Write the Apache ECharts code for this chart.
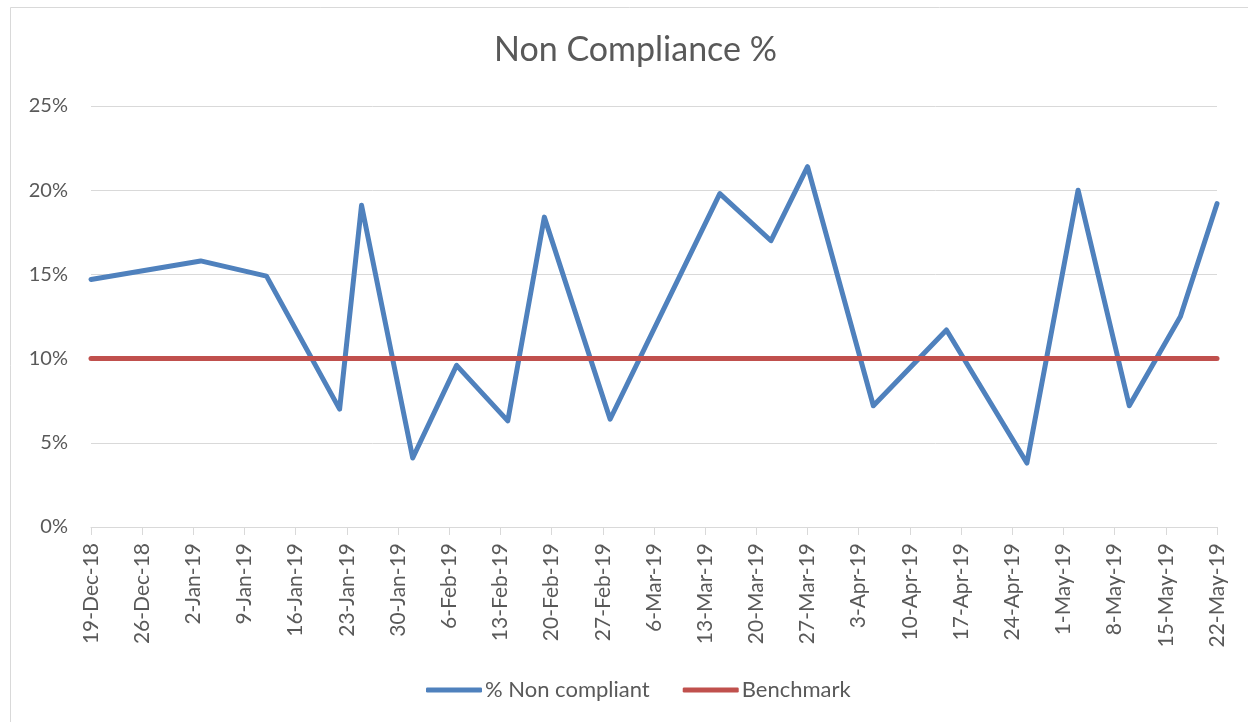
<!DOCTYPE html>
<html>
<head>
<meta charset="utf-8">
<script src="https://cdn.jsdelivr.net/npm/echarts@6/dist/echarts.min.js"></script>
<style>
html,body{margin:0;padding:0;background:#fff;}
#chart{width:1248px;height:722px;}
</style>
</head>
<body>
<div id="chart"></div>
<script>
// ---- Data ----
var axisStart = '2018-12-19';
var axisEnd = '2019-05-22';
var dates = ['2018-12-19','2019-01-03','2019-01-12','2019-01-22','2019-01-25','2019-02-01','2019-02-07','2019-02-14','2019-02-19','2019-02-28','2019-03-15','2019-03-22','2019-03-27','2019-04-05','2019-04-15','2019-04-26','2019-05-03','2019-05-10','2019-05-17','2019-05-22'];
var nonCompliant = [14.7,15.8,14.9,7.0,19.1,4.1,9.6,6.3,18.4,6.4,19.8,17.0,21.4,7.2,11.7,3.8,20.0,7.2,12.5,19.2];
var benchmark = [10,10];
var benchmarkDates = ['2018-12-19','2019-05-22'];
var monthNames = ['Jan','Feb','Mar','Apr','May','Jun','Jul','Aug','Sep','Oct','Nov','Dec'];

function dayNum(s){
  var p = s.split('-');
  return Math.round((Date.UTC(+p[0], +p[1]-1, +p[2]) - Date.UTC(2018,11,19)) / 86400000);
}
var startDay = dayNum(axisStart), endDay = dayNum(axisEnd);
function label(d){
  var t = new Date(Date.UTC(2018,11,19) + d*86400000);
  return t.getUTCDate() + '-' + monthNames[t.getUTCMonth()] + '-' + String(t.getUTCFullYear()).slice(2);
}
var seriesA = dates.map(function(d,i){return [dayNum(d), nonCompliant[i]];});
var seriesB = benchmarkDates.map(function(d,i){return [dayNum(d), benchmark[i]];});

var font = 'Lato, "Open Sans", sans-serif';
var chart = echarts.init(document.getElementById('chart'), null, {renderer:'canvas'});
chart.setOption({
  animation:false,
  backgroundColor:'#fff',
  graphic:[{type:'rect', shape:{x:10.5,y:7.5,width:1260,height:740}, style:{fill:'none', stroke:'#d9d9d9', lineWidth:1}}],
  title:{text:'Non Compliance %', left:489, top:28, textStyle:{fontFamily:font, fontSize:34, fontWeight:'normal', color:'#595959'}},
  legend:{top:674, left:421, itemWidth:56, itemHeight:5, itemGap:33, icon:'roundRect',
    textStyle:{fontFamily:font, fontSize:22, color:'#595959', padding:[0,0,0,-2]},
    data:['% Non compliant','Benchmark']},
  grid:{left:91, right:31, top:106, bottom:195, containLabel:false},
  xAxis:{type:'value', min:startDay, max:endDay, interval:7,
    axisLine:{show:true, lineStyle:{color:'#d9d9d9', width:1}},
    axisTick:{show:true, length:8, lineStyle:{color:'#d9d9d9'}},
    splitLine:{show:false},
    axisLabel:{rotate:90, margin:16, fontFamily:font, fontSize:21, color:'#595959', formatter:function(v){return label(v);}, showMaxLabel:true, showMinLabel:true}},
  yAxis:{type:'value', min:0, max:25, interval:5,
    axisLine:{show:false}, axisTick:{show:false},
    splitLine:{lineStyle:{color:'#d9d9d9', width:1}},
    axisLabel:{margin:23, fontFamily:font, fontSize:20, color:'#595959', formatter:function(v){return v+'%';}}},
  series:[
    {name:'% Non compliant', type:'line', data:seriesA, symbol:'none', lineStyle:{color:'#4f81bd', width:5, cap:'round', join:'round'}, itemStyle:{color:'#4f81bd'}},
    {name:'Benchmark', type:'line', data:seriesB, symbol:'none', lineStyle:{color:'#c0504d', width:5, cap:'round'}, itemStyle:{color:'#c0504d'}}
  ]
});
</script>
</body>
</html>
